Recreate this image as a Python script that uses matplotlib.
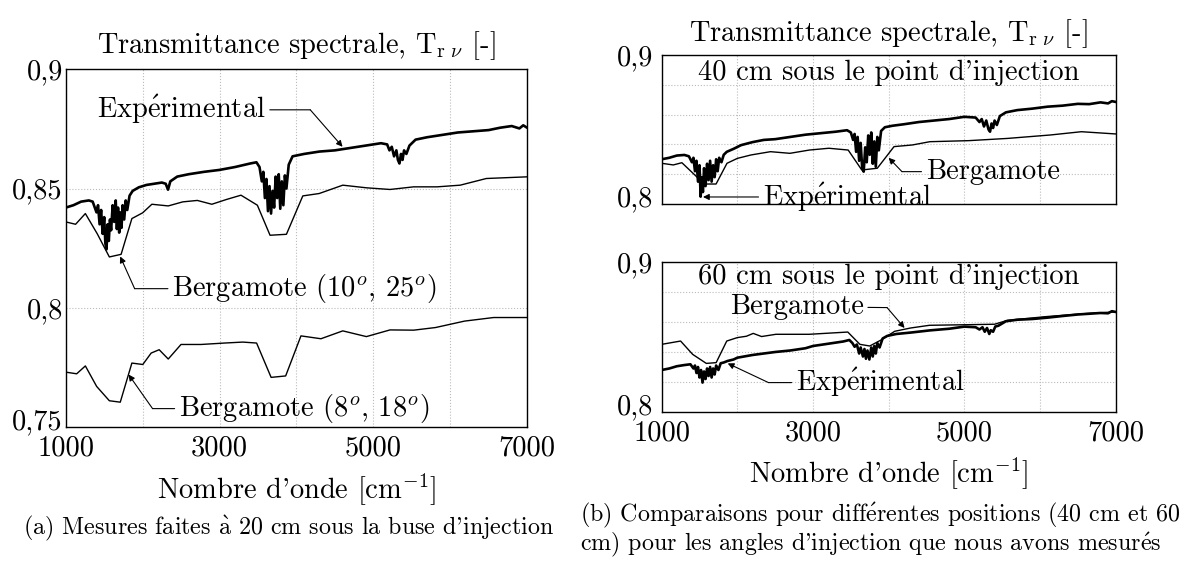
import matplotlib
matplotlib.use("Agg")
import matplotlib.pyplot as plt
from matplotlib.ticker import FixedLocator
from matplotlib.transforms import ScaledTranslation

plt.rcParams['font.family'] = ['cmr10', 'DejaVu Serif']
plt.rcParams['mathtext.fontset'] = 'cm'
plt.rcParams['axes.unicode_minus'] = False

# ---- data ----
# (a) 20 cm, experimental spectrum
exp20_x = [1000, 1100, 1200, 1300, 1350, 1400, 1420, 1440, 1460, 1480,
           1500, 1515, 1530, 1545, 1560, 1575, 1590, 1610, 1630, 1650,
           1665, 1680, 1695, 1710, 1725, 1740, 1760, 1780, 1800, 1830,
           1870, 1950, 2050, 2150, 2250, 2300, 2330, 2360, 2450, 2600,
           2800, 3000, 3200, 3400, 3480, 3520, 3550, 3570, 3590, 3610,
           3630, 3650, 3670, 3690, 3710, 3730, 3750, 3770, 3790, 3810,
           3830, 3850, 3870, 3900, 3950, 4100, 4300, 4500, 4700, 4900,
           5100, 5180, 5210, 5240, 5270, 5300, 5320, 5340, 5360, 5380,
           5400, 5430, 5470, 5550, 5700, 5900, 6100, 6300, 6500, 6650,
           6800, 6900, 6950, 7000]
exp20_y = [0.842, 0.843, 0.8445, 0.845, 0.8445, 0.840, 0.843, 0.835, 0.841, 0.831,
           0.838, 0.827, 0.8245, 0.835, 0.828, 0.837, 0.8325, 0.843, 0.836, 0.845,
           0.833, 0.842, 0.8315, 0.840, 0.8335, 0.843, 0.837, 0.845, 0.841, 0.847,
           0.849, 0.8505, 0.8515, 0.852, 0.8525, 0.852, 0.8495, 0.853, 0.855, 0.856,
           0.857, 0.8578, 0.859, 0.8605, 0.861, 0.859, 0.853, 0.857, 0.846, 0.854,
           0.8405, 0.851, 0.8395, 0.849, 0.842, 0.855, 0.846, 0.856, 0.8415, 0.853,
           0.843, 0.8555, 0.850, 0.860, 0.8635, 0.8645, 0.8655, 0.866, 0.867, 0.868,
           0.869, 0.8685, 0.866, 0.8675, 0.8635, 0.866, 0.862, 0.8605, 0.8645, 0.862,
           0.866, 0.8645, 0.868, 0.8705, 0.8715, 0.8725, 0.8735, 0.874, 0.8745, 0.8755,
           0.8762, 0.8752, 0.8765, 0.8755]

# (a) Bergamote (10°, 25°)
berg1025_x = [1000, 1128, 1255, 1410, 1567, 1720, 1860, 2000, 2120, 2333,
              2522, 2711, 2900, 3090, 3279, 3492, 3657, 3870, 4083, 4296,
              4603, 4910, 5217, 5525, 5830, 6130, 6470, 7000]
berg1025_y = [0.836, 0.835, 0.8395, 0.831, 0.8213, 0.8224, 0.8374, 0.8398, 0.8434, 0.8427,
              0.8444, 0.845, 0.8434, 0.8454, 0.8472, 0.843, 0.8304, 0.8308, 0.8469, 0.8479,
              0.8514, 0.8503, 0.8496, 0.8507, 0.8507, 0.8514, 0.8542, 0.8549]

# (a) Bergamote (8°, 18°)
berg818_x = [1000, 1142, 1255, 1402, 1567, 1709, 1860, 2002, 2111, 2215,
             2333, 2499, 2759, 3066, 3302, 3482, 3671, 3860, 4059, 4319,
             4603, 4910, 5217, 5525, 5809, 6187, 6565, 7000]
berg818_y = [0.773, 0.7723, 0.7756, 0.767, 0.761, 0.7604, 0.7768, 0.7762, 0.781, 0.7824,
             0.7785, 0.7846, 0.7846, 0.7852, 0.7856, 0.7852, 0.7708, 0.7714, 0.7882, 0.787,
             0.7903, 0.7879, 0.7907, 0.7906, 0.7917, 0.7944, 0.7959, 0.7959]

# (b) 40 cm
exp40_x = [1000, 1100, 1200, 1300, 1360, 1400, 1420, 1440, 1460, 1480,
           1500, 1515, 1530, 1545, 1560, 1580, 1600, 1620, 1640, 1660,
           1680, 1700, 1720, 1740, 1760, 1790, 1820, 1860, 1950, 2050,
           2200, 2350, 2500, 2700, 2900, 3100, 3300, 3450, 3500, 3530,
           3550, 3570, 3590, 3610, 3630, 3650, 3670, 3690, 3710, 3730,
           3750, 3770, 3790, 3810, 3830, 3850, 3870, 3900, 3950, 4050,
           4200, 4400, 4600, 4800, 5000, 5150, 5200, 5230, 5260, 5290,
           5320, 5340, 5360, 5380, 5400, 5430, 5470, 5550, 5700, 5900,
           6100, 6300, 6500, 6650, 6800, 6900, 6950, 7000]
exp40_y = [0.830, 0.831, 0.8325, 0.8329, 0.832, 0.828, 0.831, 0.822, 0.829, 0.815,
           0.826, 0.8049, 0.818, 0.808, 0.824, 0.812, 0.827, 0.816, 0.829, 0.815,
           0.826, 0.818, 0.830, 0.822, 0.831, 0.828, 0.833, 0.835, 0.837, 0.8395,
           0.8415, 0.843, 0.8435, 0.845, 0.8465, 0.8475, 0.8485, 0.8495, 0.848, 0.843,
           0.847, 0.835, 0.845, 0.829, 0.841, 0.824, 0.8217, 0.838, 0.828, 0.846,
           0.833, 0.848, 0.827, 0.842, 0.825, 0.845, 0.836, 0.849, 0.8515, 0.8525,
           0.8535, 0.855, 0.856, 0.857, 0.8585, 0.858, 0.855, 0.857, 0.852, 0.856,
           0.850, 0.8485, 0.854, 0.851, 0.856, 0.853, 0.859, 0.8615, 0.863, 0.864,
           0.8653, 0.866, 0.8672, 0.867, 0.8682, 0.8675, 0.869, 0.8685]

berg40_x = [1000, 1154, 1267, 1462, 1555, 1719, 1863, 2000, 2181, 2438,
            2695, 2952, 3209, 3465, 3645, 3850, 4071, 4313, 4544, 5057,
            5571, 6136, 6547, 7000]
berg40_y = [0.8273, 0.8262, 0.8277, 0.8183, 0.8134, 0.8134, 0.8273, 0.8306, 0.8329, 0.8351,
            0.834, 0.8362, 0.8374, 0.8362, 0.8228, 0.824, 0.8385, 0.8396, 0.8418, 0.8425,
            0.844, 0.8463, 0.8485, 0.847]

# (b) 60 cm
exp60_x = [1000, 1100, 1200, 1300, 1380, 1420, 1440, 1460, 1480, 1500,
           1520, 1540, 1560, 1580, 1600, 1620, 1640, 1660, 1680, 1700,
           1720, 1750, 1780, 1820, 1870, 1950, 2000, 2200, 2500, 2700,
           2900, 3000, 3200, 3400, 3480, 3520, 3550, 3580, 3610, 3630,
           3660, 3680, 3700, 3720, 3745, 3770, 3790, 3810, 3830, 3850,
           3880, 3920, 3980, 4100, 4300, 4544, 4800, 5000, 5150, 5200,
           5240, 5270, 5300, 5330, 5350, 5380, 5410, 5450, 5550, 5700,
           5900, 6100, 6300, 6500, 6650, 6800, 6900, 6950, 7000]
exp60_y = [0.828, 0.829, 0.8305, 0.8313, 0.8318, 0.829, 0.831, 0.826, 0.830, 0.823,
           0.828, 0.8196, 0.827, 0.822, 0.829, 0.824, 0.830, 0.823, 0.829, 0.825,
           0.831, 0.828, 0.8325, 0.833, 0.834, 0.835, 0.8362, 0.838, 0.840, 0.841,
           0.8425, 0.844, 0.8455, 0.847, 0.848, 0.846, 0.8435, 0.845, 0.839, 0.843,
           0.837, 0.842, 0.8355, 0.841, 0.835, 0.843, 0.837, 0.844, 0.839, 0.846,
           0.843, 0.849, 0.8507, 0.852, 0.853, 0.8544, 0.8555, 0.8569, 0.8565, 0.855,
           0.8565, 0.8535, 0.856, 0.852, 0.8545, 0.8535, 0.857, 0.8575, 0.8605, 0.8615,
           0.862, 0.8629, 0.864, 0.865, 0.8655, 0.866, 0.8658, 0.8672, 0.8667]

berg60_x = [1000, 1250, 1410, 1590, 1720, 1860, 2000, 2120, 2210, 2320,
            2510, 2950, 3460, 3620, 3750, 3900, 4080, 4290, 4540, 5050,
            5400, 5570, 6085, 6600, 7000]
berg60_y = [0.8451, 0.8473, 0.8384, 0.8324, 0.8329, 0.8473, 0.8496, 0.8505, 0.8524, 0.8503,
            0.8518, 0.8518, 0.8533, 0.8451, 0.844, 0.848, 0.8538, 0.856, 0.8578, 0.8582,
            0.8585, 0.8611, 0.8636, 0.8656, 0.8667]

xticks = [1000, 3000, 5000, 7000]
xgrid = [2000, 4000, 6000]

# accented letters through mathtext so they stay in Computer Modern
E_ACUTE = r'$\acute{\mathrm{e}}$'
A_GRAVE = r'$\grave{\mathrm{a}}$'
EXP = 'Exp' + E_ACUTE + 'rimental'

title = r'Transmittance spectrale, $\mathrm{T}_{\mathrm{r}\ \nu}$ [-]'
xlab = r"Nombre d'onde [cm$^{-1}$]"
FS = 20.5

fig = plt.figure(figsize=(11.89, 5.61), dpi=100)


def style(ax, yticks, ylabels, ygrid, ylim, show_x=True, ypad=2):
    ax.set_xlim(1000, 7000)
    ax.set_ylim(*ylim)
    ax.xaxis.set_major_locator(FixedLocator(xticks))
    ax.xaxis.set_minor_locator(FixedLocator(xgrid))
    ax.yaxis.set_major_locator(FixedLocator(yticks))
    ax.yaxis.set_minor_locator(FixedLocator(ygrid))
    ax.set_yticklabels(ylabels, fontsize=FS)
    if show_x:
        ax.set_xticklabels([str(v) for v in xticks], fontsize=FS)
    else:
        ax.set_xticklabels([])
    ax.tick_params(which='both', length=0)
    ax.tick_params(axis='x', pad=6)
    ax.tick_params(axis='y', pad=ypad)
    ax.grid(True, which='both', ls=':', lw=0.8, color='#bbbbbb')
    for s in ax.spines.values():
        s.set_linewidth(1.0)
    # lowest y label sits a little above its tick, as in the original
    low = ax.get_yticklabels()[0]
    low.set_transform(low.get_transform() + ScaledTranslation(0, 8 / 100, fig.dpi_scale_trans))


def callout(ax, text, tip, corner, textpos, ha):
    ax.annotate(text, xy=corner, xytext=textpos, ha=ha, va='center', fontsize=FS,
                arrowprops=dict(arrowstyle='-', lw=0.8, color='k', shrinkA=1, shrinkB=0))
    ax.annotate('', xy=tip, xytext=corner,
                arrowprops=dict(arrowstyle='-|>', lw=0.8, color='k', mutation_scale=9,
                                shrinkA=0, shrinkB=0))


# ---- (a) ----
axa = fig.add_axes([0.0553, 0.2389, 0.388, 0.6376])
axa.plot(exp20_x, exp20_y, color='k', lw=1.9)
axa.plot(berg1025_x, berg1025_y, color='k', lw=1.0)
axa.plot(berg818_x, berg818_y, color='k', lw=1.0)
style(axa, [0.75, 0.8, 0.85, 0.9], ['0,75', '0,8', '0,85', '0,9'], [], (0.75, 0.9))
axa.set_title(title, fontsize=FS, pad=12)
axa.set_xlabel(xlab, fontsize=FS, labelpad=8)
callout(axa, EXP, (4600, 0.8675), (4180, 0.883), (3600, 0.883), 'right')
callout(axa, r'Bergamote (10$^{o}$, 25$^{o}$)', (1708, 0.8215), (1896, 0.808), (2383, 0.808), 'left')
callout(axa, r'Bergamote (8$^{o}$, 18$^{o}$)', (1817, 0.772), (2129, 0.7577), (2470, 0.7577), 'left')

# ---- (b) top: 40 cm ----
axb1 = fig.add_axes([0.5565, 0.6364, 0.3818, 0.2656])
axb1.plot(exp40_x, exp40_y, color='k', lw=1.9)
axb1.plot(berg40_x, berg40_y, color='k', lw=1.0)
style(axb1, [0.8, 0.9], ['0,8', '0,9'], [0.82, 0.84, 0.86, 0.88], (0.8, 0.9),
      show_x=False, ypad=6)
axb1.set_title(title, fontsize=FS, pad=10)
axb1.text(0.5, 0.88, "40 cm sous le point d'injection", transform=axb1.transAxes,
          ha='center', va='center', fontsize=FS)
callout(axb1, 'Bergamote', (4000, 0.831), (4176, 0.8217), (4489, 0.8217), 'left')
axb1.annotate(EXP, xy=(1546, 0.8047), xytext=(2335, 0.8047), ha='left', va='center',
              fontsize=FS, arrowprops=dict(arrowstyle='-|>', lw=0.8, color='k',
                                           mutation_scale=9, shrinkA=1, shrinkB=0))

# ---- (b) bottom: 60 cm ----
axb2 = fig.add_axes([0.5565, 0.2656, 0.3818, 0.2674])
axb2.plot(exp60_x, exp60_y, color='k', lw=1.9)
axb2.plot(berg60_x, berg60_y, color='k', lw=1.0)
style(axb2, [0.8, 0.9], ['0,8', '0,9'], [0.82, 0.84, 0.86, 0.88], (0.8, 0.9), ypad=6)
axb2.set_xlabel(xlab, fontsize=FS, labelpad=7)
axb2.text(0.5, 0.90, "60 cm sous le point d'injection", transform=axb2.transAxes,
          ha='center', va='center', fontsize=FS)
callout(axb2, 'Bergamote', (4210, 0.856), (3979, 0.8696), (3671, 0.8702), 'right')
callout(axb2, EXP, (1873, 0.8324), (2412, 0.8196), (2772, 0.8196), 'left')

# ---- captions ----
CFS = 17.3
fig.text(0.019, 0.058, "(a) Mesures faites " + A_GRAVE + " 20 cm sous la buse d'injection",
         fontsize=CFS, ha='left', va='center')
fig.text(0.488, 0.082, "(b) Comparaisons pour diff" + E_ACUTE + "rentes positions (40 cm et 60",
         fontsize=CFS, ha='left', va='center')
fig.text(0.488, 0.029, "cm) pour les angles d'injection que nous avons mesur" + E_ACUTE + "s",
         fontsize=CFS, ha='left', va='center')

fig.savefig('out.png', dpi=100)
